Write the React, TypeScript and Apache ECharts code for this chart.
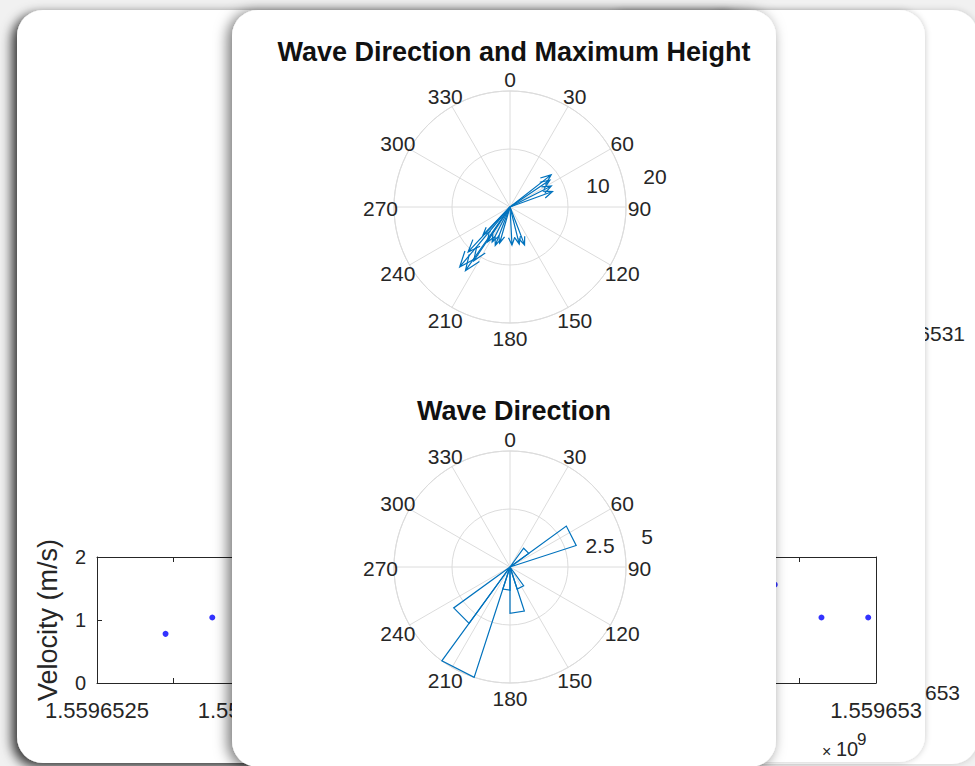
import React, { useEffect, useRef } from "react";
import * as echarts from "echarts";

// ---------- data ----------
const compassAngles = [52, 56, 63, 70, 159, 166, 177, 196, 201, 207, 213, 214, 215, 220, 223, 224];
const compassHeights = [9.0, 8.3, 8.0, 7.8, 7.0, 6.6, 6.6, 6.5, 7.1, 6.8, 7.2, 11.2, 13.4, 13.5, 10.6, 6.7];

const roseBinStart = [36, 54, 144, 162, 180, 198, 216];
const roseBinEnd = [54, 72, 162, 180, 198, 216, 234];
const roseCounts = [1, 3, 1, 2, 1, 5, 3];

const angleTickValues = [0, 30, 60, 90, 120, 150, 180, 210, 240, 270, 300, 330];
const angleTickLabels = ["0", "30", "60", "90", "120", "150", "180", "210", "240", "270", "300", "330"];
const topRadiusLabels = ["10", "20"];
const bottomRadiusLabels = ["2.5", "5"];

const velocityTimes = [1559652544, 1559652574, 1559652935, 1559652965, 1559652995];
const velocityValues = [0.78, 1.04, 1.56, 1.04, 1.04];
const timeMin = 1559652500;
const timeMax = 1559653000;
const timeTickValues = [1559652549, 1559652951];
const timeLabelValues = [1559652500, 1559652598, 1559653000];
const behindLabels = ["6531", "653"];

const titles = ["Wave Direction and Maximum Height", "Wave Direction"];

// ---------- style ----------
const BLUE = "#0072BD";
const GRID = "#dcdcdc";
const TXT = "#262626";
const FONT = "'Liberation Sans', Arial, Helvetica, sans-serif";

function compassRender(_p: any, api: any) {
  const h = api.value(0);
  const a = api.value(1);
  const c = api.coord([0, a]);
  const t = api.coord([h, a]);
  const dx = t[0] - c[0];
  const dy = t[1] - c[1];
  const bx = c[0] + 0.8 * dx;
  const by = c[1] + 0.8 * dy;
  const px = -dy * 0.08;
  const py = dx * 0.08;
  return {
    type: "polyline",
    shape: { points: [c, t, [bx + px, by + py], t, [bx - px, by - py]] },
    style: { stroke: BLUE, fill: null, lineWidth: 1.2 },
  };
}

function roseRender(_p: any, api: any) {
  const r = api.value(0);
  const a1 = api.value(1);
  const a2 = api.value(2);
  const c = api.coord([0, a1]);
  const p1 = api.coord([r, a1]);
  const p2 = api.coord([r, a2]);
  return {
    type: "polygon",
    shape: { points: [c, p1, p2] },
    style: { stroke: BLUE, fill: "none", lineWidth: 1.2 },
  };
}

// angle tick labels centred on a ring just outside the polar grid (MATLAB style)
function angleLabelRender(max: number) {
  return (params: any, api: any) => {
    const a = api.value(0);
    const c = api.coord([0, a]);
    const p = api.coord([max, a]);
    const dx = p[0] - c[0];
    const dy = p[1] - c[1];
    const len = Math.sqrt(dx * dx + dy * dy) || 1;
    const k = (len + 13.5) / len;
    return {
      type: "text",
      x: c[0] + dx * k,
      y: c[1] + dy * k + 1.5,
      style: {
        text: angleTickLabels[params.dataIndex],
        fill: TXT,
        fontSize: 21,
        fontFamily: FONT,
        align: "center",
        verticalAlign: "middle",
      },
    };
  };
}

function angleAxis(polarIndex: number) {
  return {
    polarIndex,
    type: "value",
    min: 0,
    max: 360,
    interval: 30,
    startAngle: 90,
    clockwise: true,
    z: 20,
    axisLine: { show: true, lineStyle: { color: GRID, width: 1 } },
    axisTick: { show: false },
    axisLabel: { show: false },
    splitLine: { show: true, lineStyle: { color: GRID, width: 1 } },
  };
}

function radiusAxis(polarIndex: number, max: number, interval: number) {
  return {
    polarIndex,
    type: "value",
    min: 0,
    max,
    interval,
    z: 20,
    axisLine: { show: false },
    axisTick: { show: false },
    axisLabel: { show: false },
    splitLine: { show: true, lineStyle: { color: GRID, width: 1 } },
  };
}

function txt(text: string, x: number, y: number, size: number, z: number, align = "center", color = TXT) {
  return {
    type: "text",
    x,
    y,
    z,
    silent: true,
    style: {
      text,
      fill: color,
      fontSize: size,
      fontFamily: FONT,
      align,
      textAlign: align,
      verticalAlign: "middle",
      textVerticalAlign: "middle",
    },
  };
}

function card(x: number, y: number, w: number, h: number, z: number, blur: number, color: string, ox: number, oy: number) {
  return {
    type: "rect",
    z,
    silent: true,
    shape: { x, y, width: w, height: h, r: 26 },
    style: { fill: "#ffffff", shadowBlur: blur, shadowColor: color, shadowOffsetX: ox, shadowOffsetY: oy },
  };
}

const fmtTime = (v: number) => String(parseFloat((v / 1e9).toFixed(7)));

const option: any = {
  animation: false,
  backgroundColor: "#f1f1f1",
  textStyle: { fontFamily: FONT },
  title: [
    {
      text: titles[0],
      left: 509,
      top: 33,
      textAlign: "center",
      z: 20,
      textStyle: { fontSize: 27, fontWeight: "bold", color: "#111", fontFamily: FONT },
    },
    {
      text: titles[1],
      left: 509,
      top: 392,
      textAlign: "center",
      z: 20,
      textStyle: { fontSize: 27, fontWeight: "bold", color: "#111", fontFamily: FONT },
    },
  ],
  graphic: {
    elements: [
      card(700, 10, 278, 754, 1, 6, "rgba(0,0,0,0.18)", 0, 0),
      txt(behindLabels[0], 965, 333, 21, 2, "right"),
      txt(behindLabels[1], 960, 692, 21, 2, "right"),
      card(600, 10, 325, 752, 3, 6, "rgba(0,0,0,0.22)", 0, 0),
      card(17, 10, 735, 753, 4, 12, "rgba(0,0,0,0.8)", -5, 4),
      card(232, 10, 544, 757, 10, 14, "rgba(0,0,0,0.55)", -4, 2),
      txt(topRadiusLabels[0], 598, 185, 21, 21),
      txt(topRadiusLabels[1], 655, 176, 21, 21),
      txt(bottomRadiusLabels[0], 600, 545, 21, 21),
      txt(bottomRadiusLabels[1], 647, 536, 21, 21),
      txt("×", 822, 751, 16, 6, "left"),
      txt("10", 836, 749, 20, 6, "left"),
      txt("9", 857, 739, 17, 6, "left"),
    ],
  },
  polar: [
    { center: [510, 207], radius: 116 },
    { center: [510, 567], radius: 116 },
  ],
  angleAxis: [angleAxis(0), angleAxis(1)],
  radiusAxis: [radiusAxis(0, 20, 10), radiusAxis(1, 5, 2.5)],
  grid: [{ left: 97, top: 557, width: 779, height: 126, containLabel: false }],
  xAxis: [
    {
      gridIndex: 0,
      type: "value",
      min: timeMin,
      max: timeMax,
      position: "bottom",
      z: 5,
      axisLine: { show: true, onZero: false, lineStyle: { color: TXT, width: 1 } },
      axisTick: { show: true, inside: true, length: 5, customValues: timeTickValues, lineStyle: { color: TXT } },
      axisLabel: { show: true, customValues: timeLabelValues, formatter: fmtTime, fontSize: 22, color: TXT, margin: 16, fontFamily: FONT },
      splitLine: { show: false },
    },
    {
      gridIndex: 0,
      type: "value",
      min: timeMin,
      max: timeMax,
      position: "top",
      z: 5,
      axisLine: { show: true, onZero: false, lineStyle: { color: TXT, width: 1 } },
      axisTick: { show: true, inside: true, length: 5, customValues: timeTickValues, lineStyle: { color: TXT } },
      axisLabel: { show: false },
      splitLine: { show: false },
    },
  ],
  yAxis: [
    {
      gridIndex: 0,
      type: "value",
      min: 0,
      max: 2,
      interval: 1,
      position: "left",
      z: 5,
      name: "Velocity (m/s)",
      nameLocation: "middle",
      nameRotate: 90,
      nameGap: 36,
      nameTextStyle: { fontSize: 27, color: TXT, fontFamily: FONT },
      axisLine: { show: true, onZero: false, lineStyle: { color: TXT, width: 1 } },
      axisTick: { show: true, inside: true, length: 5, lineStyle: { color: TXT } },
      axisLabel: { fontSize: 20, color: TXT, margin: 11, fontFamily: FONT },
      splitLine: { show: false },
    },
    {
      gridIndex: 0,
      type: "value",
      min: 0,
      max: 2,
      interval: 1,
      position: "right",
      z: 5,
      axisLine: { show: true, onZero: false, lineStyle: { color: TXT, width: 1 } },
      axisTick: { show: false },
      axisLabel: { show: false },
      splitLine: { show: false },
    },
  ],
  series: [
    {
      type: "scatter",
      xAxisIndex: 0,
      yAxisIndex: 0,
      z: 6,
      symbolSize: 6,
      itemStyle: { color: "#0000ff" },
      data: velocityTimes.map((t, i) => [t, velocityValues[i]]),
    },
    {
      type: "custom",
      coordinateSystem: "polar",
      polarIndex: 0,
      z: 21,
      dimensions: ["height", "angle"],
      encode: { radius: 0, angle: 1 },
      renderItem: compassRender,
      data: compassHeights.map((h, i) => [h, compassAngles[i]]),
    },
    {
      type: "custom",
      coordinateSystem: "polar",
      polarIndex: 1,
      z: 21,
      dimensions: ["count", "start", "end"],
      encode: { radius: 0, angle: 1 },
      renderItem: roseRender,
      data: roseCounts.map((n, i) => [n, roseBinStart[i], roseBinEnd[i]]),
    },
    {
      type: "custom",
      coordinateSystem: "polar",
      polarIndex: 0,
      z: 21,
      silent: true,
      dimensions: ["angle"],
      encode: { angle: 0 },
      renderItem: angleLabelRender(20),
      data: angleTickValues.map((a) => [a]),
    },
    {
      type: "custom",
      coordinateSystem: "polar",
      polarIndex: 1,
      z: 21,
      silent: true,
      dimensions: ["angle"],
      encode: { angle: 0 },
      renderItem: angleLabelRender(5),
      data: angleTickValues.map((a) => [a]),
    },
  ],
};

export default function App() {
  const ref = useRef<HTMLDivElement>(null);
  useEffect(() => {
    if (!ref.current) return;
    const chart = echarts.init(ref.current, null, { renderer: "svg" });
    chart.setOption(option);
    return () => chart.dispose();
  }, []);
  return <div ref={ref} style={{ position: "fixed", left: 0, top: 0, width: 975, height: 766 }} />;
}
